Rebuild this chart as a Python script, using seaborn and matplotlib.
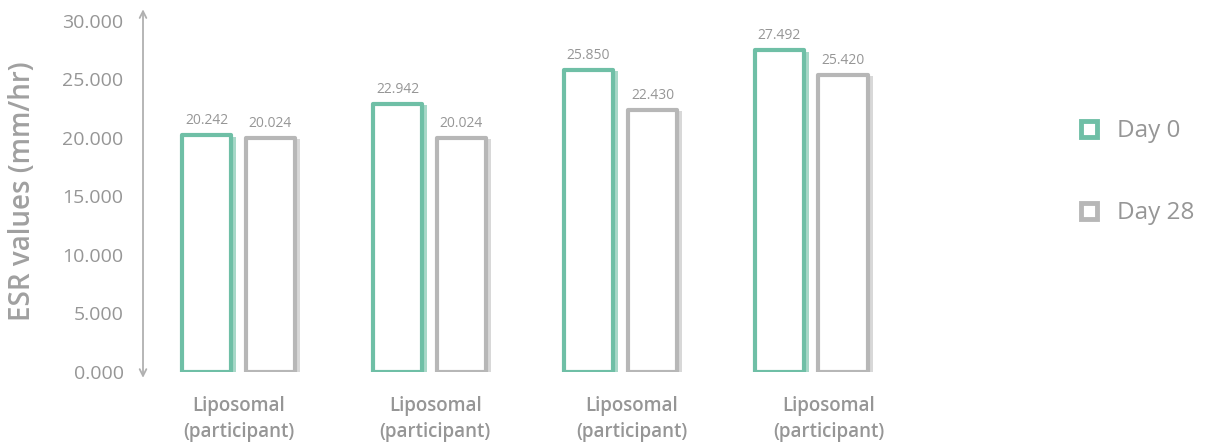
import matplotlib
matplotlib.use("Agg")
import matplotlib.pyplot as plt
import matplotlib.patheffects as pe
from matplotlib.lines import Line2D
import seaborn as sns
import pandas as pd

# Chart data
group_ids = [0, 1, 2, 3]
group_labels = [
    "Liposomal\n(participant)",
    "Liposomal\n(participant)",
    "Liposomal\n(participant)",
    "Liposomal\n(participant)",
]
series_names = ["Day 0", "Day 28"]
day0_values = [20.242, 22.942, 25.850, 27.492]
day28_values = [20.024, 20.024, 22.430, 25.420]
y_ticks = [0, 5, 10, 15, 20, 25, 30]

# Styling
GREEN = "#6fbfa6"
GRAY = "#b7b7b7"
SHADOWS = {GREEN: "#a8d8c8", GRAY: "#d8d8d8"}
TEXT = "#969696"

sns.set_theme(style="white")
plt.rcParams["font.family"] = ["Open Sans", "DejaVu Sans"]
plt.rcParams["font.weight"] = 500

df = pd.DataFrame({
    "group": group_ids * 2,
    "value": day0_values + day28_values,
    "series": [series_names[0]] * len(group_ids) + [series_names[1]] * len(group_ids),
})

fig = plt.figure(figsize=(12.14, 4.43), dpi=100)
ax = fig.add_axes([0.1178, 0.1603, 0.645, 0.7923])

sns.barplot(
    data=df, x="group", y="value", hue="series",
    palette={series_names[0]: GREEN, series_names[1]: GRAY},
    width=0.67, gap=0.22, saturation=1, legend=False, ax=ax, errorbar=None,
)

# Outlined bars with white fill and a soft offset shadow
for patch in ax.patches:
    col = matplotlib.colors.to_hex(patch.get_facecolor())
    patch.set_facecolor("white")
    patch.set_edgecolor(col)
    patch.set_linewidth(3)
    patch.set_joinstyle("round")
    patch.set_path_effects([
        pe.SimplePatchShadow(offset=(3, -1), shadow_rgbFace=SHADOWS.get(col, "#dddddd"), alpha=1),
        pe.Normal(),
    ])

for container, vals in zip(ax.containers, [day0_values, day28_values]):
    ax.bar_label(container, labels=[f"{v:.3f}" for v in vals], padding=5,
                 fontsize=10, color=TEXT)

ax.set_xlim(-0.5, 3.6)
ax.set_ylim(0, 30)
ax.set_yticks(y_ticks)
ax.set_yticklabels([f"{v:.3f}" for v in y_ticks])
ax.set_xticks([0, 1.03, 2.06, 3.09])
ax.set_xticklabels(group_labels, linespacing=1.4, fontweight="semibold")
ax.tick_params(axis="y", length=0, pad=14, labelsize=14, labelcolor=TEXT)
ax.tick_params(axis="x", length=0, pad=17, labelsize=13.5, labelcolor=TEXT)
ax.set_xlabel("")
ax.set_ylabel("")
for s in ax.spines.values():
    s.set_visible(False)

# Double-headed vertical axis arrow
ax.annotate("", xy=(0, 31.0), xytext=(0, -0.5),
            xycoords=("axes fraction", "data"), textcoords=("axes fraction", "data"),
            arrowprops=dict(arrowstyle="<->", color="#b0b0b0", lw=1.3,
                            shrinkA=0, shrinkB=0), annotation_clip=False)

fig.text(23 / 1214, 1 - 191 / 443, "ESR values (mm/hr)", rotation=90,
         ha="center", va="center", fontsize=20, color="#a0a0a0", fontweight="semibold")

handles = [
    Line2D([], [], marker="s", ls="", markersize=12, markerfacecolor="white",
           markeredgecolor=c, markeredgewidth=3.5)
    for c in (GREEN, GRAY)
]
fig.legend(handles, series_names, loc="center left", bbox_to_anchor=(0.887, 0.611),
           frameon=False, fontsize=17.5, labelcolor=TEXT, labelspacing=2.4,
           handlelength=1.0, handletextpad=0.65, borderpad=0, borderaxespad=0)

fig.savefig("out.png", dpi=100)
